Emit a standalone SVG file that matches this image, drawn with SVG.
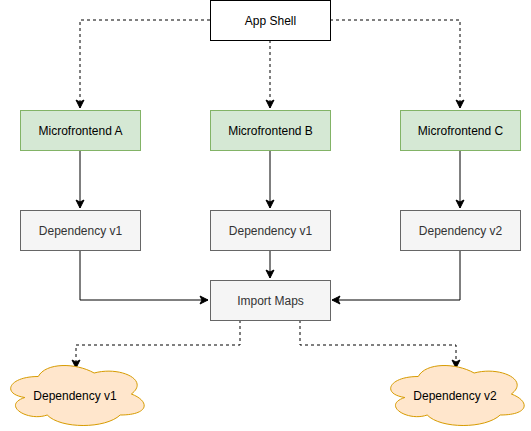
<svg xmlns="http://www.w3.org/2000/svg" width="531" height="431" viewBox="0 0 531 431">
<defs>
<marker id="arr" markerWidth="10" markerHeight="10" viewBox="0 0 10 10" refX="9" refY="5" orient="auto" markerUnits="userSpaceOnUse">
<path d="M1,1 L9,5 L1,9 L3,5 Z" fill="#000" stroke="#000" stroke-width="1"/>
</marker>
</defs>
<style>
.t{font-family:"Liberation Sans",Arial,sans-serif;font-size:12px;text-anchor:middle;dominant-baseline:central}
.w{fill:#fff;stroke:#000}
.g{fill:#d5e8d4;stroke:#82b366}
.d{fill:#f5f5f5;stroke:#666}
.c{fill:#ffe6cc;stroke:#d79b00}
.dk{fill:#333}
.e{fill:none;stroke:#000;stroke-width:1}
.ds{stroke-dasharray:3 3}
</style>
<rect width="531" height="431" fill="#fff"/>
<g id="connectors">
<path class="e ds" d="M210,20 H80 V108" marker-end="url(#arr)"/>
<path class="e ds" d="M270,40 V108" marker-end="url(#arr)"/>
<path class="e ds" d="M330,20 H460 V108" marker-end="url(#arr)"/>
<path class="e" d="M80,150 V208" marker-end="url(#arr)"/>
<path class="e" d="M270,150 V208" marker-end="url(#arr)"/>
<path class="e" d="M460,150 V208" marker-end="url(#arr)"/>
<path class="e" d="M80,250 V300 H208" marker-end="url(#arr)"/>
<path class="e" d="M270,250 V278" marker-end="url(#arr)"/>
<path class="e" d="M460,250 V300 H332" marker-end="url(#arr)"/>
<path class="e ds" d="M240,320 V345 H76 V368" marker-end="url(#arr)"/>
<path class="e ds" d="M300,320 V345 H456 V368" marker-end="url(#arr)"/>
</g>
<g id="app-shell"><rect class="w" x="210.5" y="0.5" width="120" height="40"/><text class="t" x="270.5" y="20.5">App Shell</text></g>
<g id="mf-a"><rect class="g" x="20.5" y="110.5" width="120" height="40"/><text class="t" x="80.5" y="130.5">Microfrontend A</text></g>
<g id="mf-b"><rect class="g" x="210.5" y="110.5" width="120" height="40"/><text class="t" x="270.5" y="130.5">Microfrontend B</text></g>
<g id="mf-c"><rect class="g" x="400.5" y="110.5" width="120" height="40"/><text class="t" x="460.5" y="130.5">Microfrontend C</text></g>
<g id="dep-a"><rect class="d" x="20.5" y="210.5" width="120" height="40"/><text class="t dk" x="80.5" y="230.5">Dependency v1</text></g>
<g id="dep-b"><rect class="d" x="210.5" y="210.5" width="120" height="40"/><text class="t dk" x="270.5" y="230.5">Dependency v1</text></g>
<g id="dep-c"><rect class="d" x="400.5" y="210.5" width="120" height="40"/><text class="t dk" x="460.5" y="230.5">Dependency v2</text></g>
<g id="import-maps"><rect class="d" x="210.5" y="280.5" width="120" height="40"/><text class="t dk" x="270.5" y="300.5">Import Maps</text></g>
<g id="cloud-v1">
<path class="c" transform="translate(1,359) scale(149,70)" vector-effect="non-scaling-stroke" d="M0.25,0.25 C0.05,0.25 0,0.5 0.16,0.55 C0,0.66 0.18,0.9 0.31,0.8 C0.4,1 0.7,1 0.8,0.8 C1,0.8 1,0.6 0.875,0.5 C1,0.3 0.8,0.1 0.625,0.2 C0.5,0.05 0.3,0.05 0.25,0.25 Z"/>
<text class="t" x="75" y="396" style="fill:#000">Dependency v1</text>
</g>
<g id="cloud-v2">
<path class="c" transform="translate(381,359) scale(149,70)" vector-effect="non-scaling-stroke" d="M0.25,0.25 C0.05,0.25 0,0.5 0.16,0.55 C0,0.66 0.18,0.9 0.31,0.8 C0.4,1 0.7,1 0.8,0.8 C1,0.8 1,0.6 0.875,0.5 C1,0.3 0.8,0.1 0.625,0.2 C0.5,0.05 0.3,0.05 0.25,0.25 Z"/>
<text class="t" x="455" y="396" style="fill:#000">Dependency v2</text>
</g>
</svg>
